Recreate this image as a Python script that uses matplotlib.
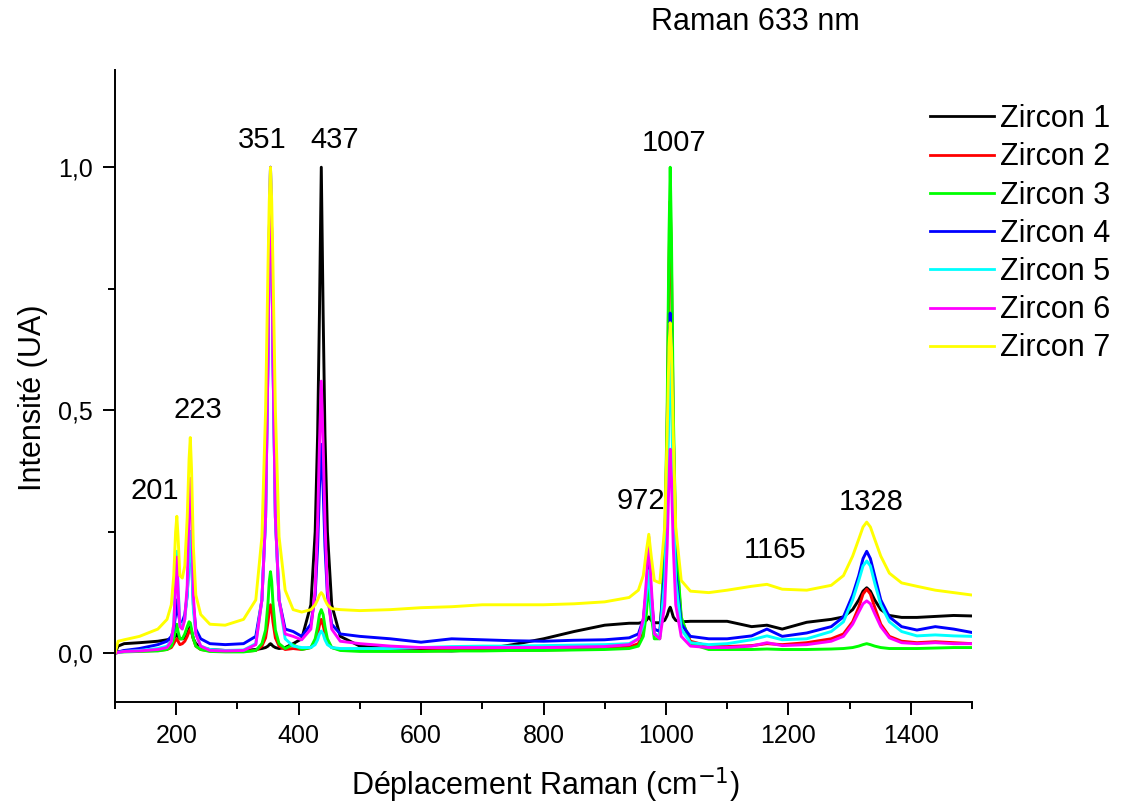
import numpy as np
import matplotlib
matplotlib.use('Agg')
import matplotlib.pyplot as plt
from matplotlib.ticker import MultipleLocator, FuncFormatter

plt.rcParams['font.family'] = ['Liberation Sans', 'DejaVu Sans']

# Raman shift grid (cm-1), shared by all spectra
shift = [100, 105, 115, 140, 170, 185, 192, 196, 199, 201,
         203, 206, 210, 214, 218, 221, 223, 225, 228, 232,
         240, 255, 280, 310, 330, 340, 346, 350, 352, 354,
         356, 358, 362, 368, 378, 391, 405, 420, 427, 431,
         434, 437, 440, 443, 447, 454, 468, 500, 550, 600,
         650, 700, 750, 800, 850, 900, 940, 955, 963, 968,
         972, 976, 981, 990, 998, 1002, 1005, 1007, 1009, 1012,
         1016, 1025, 1040, 1070, 1100, 1140, 1165, 1190, 1230, 1270,
         1290, 1305, 1315, 1322, 1328, 1334, 1341, 1351, 1365, 1385,
         1410, 1440, 1470, 1500]

zircon1 = [0.0, 0.015, 0.02, 0.022, 0.025, 0.028, 0.03, 0.032, 0.035, 0.04,
           0.035, 0.03, 0.03, 0.032, 0.04, 0.05, 0.055, 0.045, 0.03, 0.02,
           0.012, 0.008, 0.006, 0.006, 0.008, 0.01, 0.012, 0.015, 0.018, 0.02,
           0.018, 0.015, 0.012, 0.01, 0.012, 0.02, 0.03, 0.1, 0.25, 0.45,
           0.7, 1.0, 0.7, 0.45, 0.25, 0.1, 0.035, 0.015, 0.01, 0.006,
           0.005, 0.008, 0.018, 0.03, 0.045, 0.058, 0.062, 0.062, 0.064, 0.068,
           0.075, 0.068, 0.063, 0.063, 0.068, 0.078, 0.09, 0.095, 0.088, 0.075,
           0.068, 0.065, 0.066, 0.066, 0.066, 0.055, 0.058, 0.05, 0.064, 0.07,
           0.075, 0.09, 0.11, 0.128, 0.135, 0.128, 0.11, 0.09, 0.078, 0.074,
           0.074, 0.076, 0.078, 0.077]

zircon2 = [0.0, 0.003, 0.005, 0.005, 0.006, 0.008, 0.012, 0.02, 0.028, 0.03,
           0.025, 0.018, 0.02, 0.025, 0.035, 0.045, 0.05, 0.045, 0.03, 0.015,
           0.008, 0.005, 0.004, 0.004, 0.006, 0.015, 0.032, 0.065, 0.088, 0.1,
           0.088, 0.065, 0.032, 0.015, 0.008, 0.01, 0.008, 0.012, 0.025, 0.04,
           0.058, 0.07, 0.058, 0.04, 0.025, 0.012, 0.008, 0.006, 0.005, 0.005,
           0.006, 0.006, 0.006, 0.007, 0.008, 0.01, 0.013, 0.02, 0.045, 0.11,
           0.2, 0.11, 0.04, 0.035, 0.2, 0.46, 0.8, 0.93, 0.8, 0.46,
           0.22, 0.07, 0.025, 0.015, 0.014, 0.016, 0.02, 0.018, 0.022, 0.03,
           0.04, 0.065, 0.095, 0.122, 0.132, 0.122, 0.095, 0.06, 0.035, 0.025,
           0.022, 0.024, 0.022, 0.02]

zircon3 = [0.0, 0.002, 0.003, 0.004, 0.005, 0.008, 0.015, 0.03, 0.05, 0.06,
           0.045, 0.03, 0.03, 0.04, 0.055, 0.065, 0.063, 0.05, 0.03, 0.015,
           0.008, 0.004, 0.003, 0.003, 0.006, 0.02, 0.048, 0.105, 0.148, 0.168,
           0.148, 0.105, 0.048, 0.02, 0.01, 0.018, 0.008, 0.012, 0.03, 0.055,
           0.08, 0.09, 0.08, 0.055, 0.03, 0.012, 0.006, 0.004, 0.004, 0.004,
           0.005, 0.005, 0.006, 0.006, 0.007, 0.008, 0.01, 0.015, 0.035, 0.08,
           0.15, 0.08, 0.03, 0.03, 0.22, 0.5, 0.86, 1.0, 0.86, 0.5,
           0.24, 0.075, 0.02, 0.008, 0.008, 0.008, 0.009, 0.008, 0.008, 0.009,
           0.01, 0.012, 0.015, 0.018, 0.02, 0.018, 0.015, 0.012, 0.01, 0.01,
           0.01, 0.011, 0.012, 0.012]

zircon4 = [0.0, 0.003, 0.006, 0.01, 0.018, 0.025, 0.035, 0.05, 0.08, 0.11,
           0.085, 0.065, 0.065, 0.08, 0.12, 0.2, 0.25, 0.2, 0.1, 0.05,
           0.03, 0.02, 0.018, 0.02, 0.035, 0.11, 0.28, 0.61, 0.86, 1.0,
           0.86, 0.61, 0.28, 0.11, 0.05, 0.045, 0.035, 0.06, 0.12, 0.22,
           0.34, 0.43, 0.34, 0.22, 0.12, 0.06, 0.04, 0.035, 0.03, 0.023,
           0.03, 0.028, 0.026, 0.025, 0.027, 0.028, 0.032, 0.04, 0.07, 0.13,
           0.2, 0.12, 0.05, 0.045, 0.17, 0.36, 0.6, 0.7, 0.6, 0.36,
           0.17, 0.06, 0.035, 0.03, 0.03, 0.036, 0.05, 0.035, 0.042, 0.055,
           0.075, 0.12, 0.16, 0.195, 0.21, 0.195, 0.16, 0.11, 0.075, 0.055,
           0.048, 0.055, 0.05, 0.043]

zircon5 = [0.0, 0.002, 0.004, 0.006, 0.01, 0.015, 0.025, 0.06, 0.15, 0.21,
           0.14, 0.06, 0.055, 0.07, 0.12, 0.2, 0.25, 0.2, 0.09, 0.04,
           0.015, 0.008, 0.006, 0.007, 0.02, 0.11, 0.28, 0.61, 0.86, 1.0,
           0.86, 0.61, 0.28, 0.11, 0.03, 0.015, 0.012, 0.012, 0.018, 0.028,
           0.04, 0.046, 0.04, 0.028, 0.018, 0.012, 0.01, 0.01, 0.01, 0.012,
           0.014, 0.015, 0.015, 0.016, 0.017, 0.018, 0.02, 0.03, 0.06, 0.12,
           0.17, 0.1, 0.04, 0.035, 0.15, 0.32, 0.53, 0.62, 0.53, 0.32,
           0.15, 0.05, 0.022, 0.018, 0.02, 0.028, 0.036, 0.028, 0.03, 0.045,
           0.065, 0.11, 0.15, 0.18, 0.19, 0.18, 0.145, 0.1, 0.065, 0.045,
           0.036, 0.038, 0.036, 0.035]

zircon6 = [0.0, 0.002, 0.004, 0.005, 0.008, 0.012, 0.025, 0.06, 0.14, 0.198,
           0.13, 0.055, 0.05, 0.07, 0.14, 0.3, 0.36, 0.3, 0.12, 0.04,
           0.015, 0.006, 0.005, 0.006, 0.018, 0.11, 0.28, 0.61, 0.86, 1.0,
           0.86, 0.61, 0.28, 0.11, 0.04, 0.035, 0.028, 0.05, 0.13, 0.27,
           0.43, 0.56, 0.43, 0.27, 0.13, 0.05, 0.025, 0.02, 0.015, 0.012,
           0.012, 0.012, 0.012, 0.012, 0.013, 0.014, 0.018, 0.03, 0.07, 0.15,
           0.24, 0.14, 0.04, 0.03, 0.1, 0.22, 0.36, 0.42, 0.36, 0.22,
           0.1, 0.035, 0.015, 0.012, 0.012, 0.015, 0.022, 0.016, 0.018, 0.025,
           0.035, 0.06, 0.085, 0.102, 0.108, 0.102, 0.082, 0.055, 0.032, 0.022,
           0.02, 0.022, 0.02, 0.02]

zircon7 = [0.0, 0.025, 0.028, 0.035, 0.05, 0.07, 0.1, 0.16, 0.25, 0.282,
           0.24, 0.16, 0.155, 0.18, 0.28, 0.4, 0.444, 0.38, 0.22, 0.12,
           0.08, 0.06, 0.058, 0.07, 0.11, 0.24, 0.5, 0.8, 0.93, 1.0,
           0.93, 0.8, 0.5, 0.24, 0.13, 0.09, 0.085, 0.09, 0.1, 0.11,
           0.12, 0.125, 0.12, 0.11, 0.1, 0.092, 0.09, 0.088, 0.09, 0.094,
           0.096, 0.1, 0.1, 0.1, 0.102, 0.106, 0.115, 0.13, 0.16, 0.21,
           0.245, 0.2, 0.15, 0.145, 0.26, 0.45, 0.63, 0.68, 0.63, 0.45,
           0.26, 0.15, 0.128, 0.125, 0.13, 0.138, 0.142, 0.132, 0.13, 0.14,
           0.16, 0.2, 0.235, 0.26, 0.27, 0.26, 0.235, 0.2, 0.165, 0.145,
           0.138, 0.13, 0.125, 0.12]

labels = ['Zircon 1', 'Zircon 2', 'Zircon 3', 'Zircon 4', 'Zircon 5', 'Zircon 6', 'Zircon 7']
colors = ['#000000', '#ff0000', '#00ff00', '#0000ff', '#00ffff', '#ff00ff', '#ffff00']
peak_labels = ['201', '223', '351', '437', '972', '1007', '1165', '1328']
peak_pos = [(165, 0.335), (236, 0.50), (340, 1.056), (459, 1.056),
            (959, 0.313), (1013, 1.049), (1178, 0.212), (1335, 0.311)]


def main():
    fig = plt.figure(figsize=(11.27, 8.05), dpi=100)
    ax = fig.add_axes([115/1127, 103/805, 857/1127, 632/805])

    spectra = [zircon1, zircon2, zircon3, zircon4, zircon5, zircon6, zircon7]
    for y, lab, col in zip(spectra, labels, colors):
        ax.plot(shift, y, color=col, lw=2.1, label=lab)

    for txt, (px, py) in zip(peak_labels, peak_pos):
        ax.text(px, py, txt, ha='center', va='center', fontsize=21)

    ax.set_xlim(100, 1500)
    ax.set_ylim(-0.1, 1.2)
    for s in ['top', 'right']:
        ax.spines[s].set_visible(False)
    for s in ['left', 'bottom']:
        ax.spines[s].set_linewidth(1.4)

    ax.xaxis.set_major_locator(MultipleLocator(200))
    ax.xaxis.set_minor_locator(MultipleLocator(100))
    ax.yaxis.set_major_locator(MultipleLocator(0.5))
    ax.yaxis.set_minor_locator(MultipleLocator(0.25))
    ax.yaxis.set_major_formatter(FuncFormatter(lambda v, p: '{:.1f}'.format(v).replace('.', ',')))
    ax.tick_params(which='major', direction='out', length=9, width=1.4, labelsize=18, pad=7)
    ax.tick_params(which='minor', direction='out', length=5, width=1.4)

    fig.text(33/1127, 1-398/805, 'Intensité (UA)', rotation=90, ha='center', va='center', fontsize=22)
    fig.text(545/1127, 1-785/805, 'Déplacement Raman (cm$^{-1}$)', ha='center', va='center', fontsize=22)
    fig.text(755/1127, 1-22/805, 'Raman 633 nm', ha='center', va='center', fontsize=22)

    leg = ax.legend(loc='upper left', bbox_to_anchor=(930/1127, 1-104/805), bbox_transform=fig.transFigure,
                    frameon=False, fontsize=22, handlelength=2.1, handletextpad=0.2,
                    labelspacing=0.27, borderpad=0, borderaxespad=0)
    for line in leg.get_lines():
        line.set_linewidth(2.0)

    fig.savefig('out.png', dpi=100)


main()
